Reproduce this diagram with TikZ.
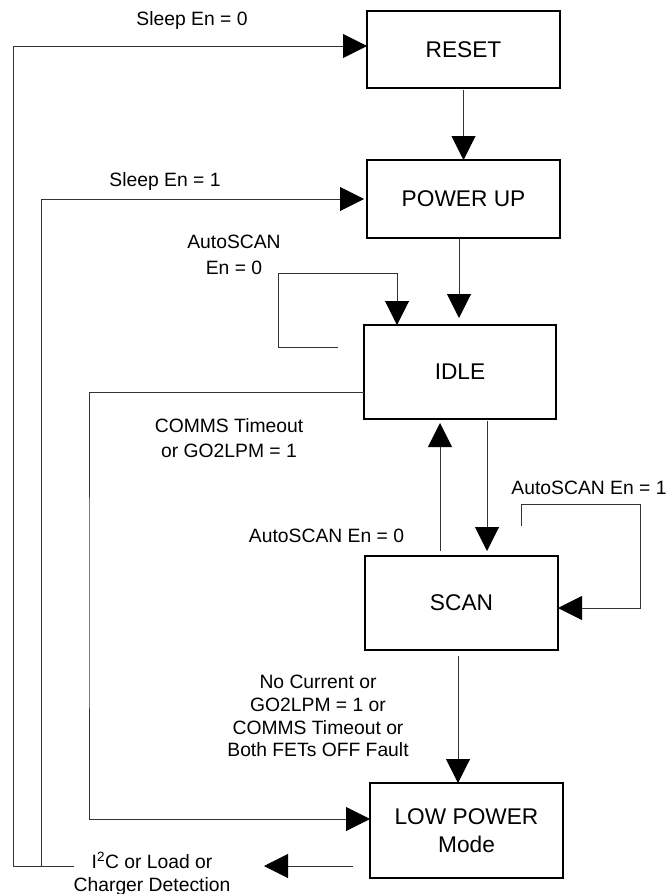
\documentclass[tikz,border=0pt]{standalone}
\usepackage{fontspec}
\setmainfont{Liberation Sans}
\usetikzlibrary{arrows.meta}
\newcommand{\statefont}{\fontsize{22.7}{28}\selectfont}
\newcommand{\labfont}{\fontsize{19.3}{22.7}\selectfont}
\begin{document}
\begin{tikzpicture}[x=1pt,y=-1pt,
  state/.style={draw=black, line width=1.3pt, inner sep=0pt, outer sep=0pt, font=\statefont, align=center},
  lab/.style={font=\labfont, align=center, inner sep=0pt},
  wire/.style={draw=black!80, line width=1pt},
  conn/.style={wire, -{Triangle[length=24pt,width=24pt,color=black]}}
]
\useasboundingbox (0,0) rectangle (666,894);
\fill[white] (0,0) rectangle (666,894);

% states
\node[state, minimum width=193pt, minimum height=77pt] (reset) at (463.5,49.5) {RESET};
\node[state, minimum width=193pt, minimum height=78pt] (powerup) at (463.5,199) {POWER UP};
\node[state, minimum width=192pt, minimum height=94pt] (idle) at (460,372) {IDLE};
\node[state, minimum width=193pt, minimum height=94pt] (scan) at (461.5,603) {SCAN};
\node[state, minimum width=193pt, minimum height=95pt] (lpm) at (466.5,830.5) {LOW POWER\\Mode};

% labels
\node[lab] (l0) at (192,21) {Sleep En = 0};
\node[lab] (l1) at (165,182) {Sleep En = 1};
\node[lab, font=\fontsize{19.3}{26}\selectfont] (l2) at (234,255) {AutoSCAN\\En = 0};
\node[lab, font=\fontsize{19.3}{25}\selectfont] (l3) at (229,438.5) {COMMS Timeout\\or GO2LPM = 1};
\node[lab] (l4) at (326.5,536) {AutoSCAN En = 0};
\node[lab] (l5) at (589,488) {AutoSCAN En = 1};
\node[lab] (l6) at (318,716) {No Current or\\GO2LPM = 1 or\\COMMS Timeout or\\Both FETs OFF Fault};
\node[lab] (det) at (152,873.5) {I\textsuperscript{2}C or Load or\\Charger Detection};

% free ends
\coordinate (detL) at (74,866);
\coordinate (detR) at (264,866);
\coordinate (jn) at (41,866);
\coordinate (iloopS) at (338,347);
\coordinate (sloopS) at (521,526);

% connectors
\draw[conn] (detL) -- (13,866) |- ([yshift=3.5pt]reset.west);
\draw[conn, shorten >=3pt] (jn) |- (powerup.west);
\draw[conn, shorten <=2pt] (reset.south) -- (powerup.north);
\draw[conn] ([xshift=-4.5pt,yshift=-1pt]powerup.south) -- ([xshift=-1pt,yshift=7pt]idle.north);
\draw[conn] (iloopS) -| (278,273) -| ([xshift=-63pt]idle.north);
\draw[conn] ([yshift=-20pt]idle.west) -| (89,600) |- ([yshift=11.5pt]lpm.west);
\draw[conn] ([xshift=27pt,yshift=-2pt]idle.south) -- ([xshift=25.5pt,yshift=5pt]scan.north);
\draw[conn] ([xshift=-21.5pt,yshift=5pt]scan.north) -- ([xshift=-20pt,yshift=-4pt]idle.south);
\draw[conn] (sloopS) |- (640,504) |- ([yshift=-5pt]scan.east);
\draw[conn] ([xshift=-3.5pt,yshift=-6pt]scan.south) -- ([xshift=-8.5pt]lpm.north);
\draw[conn] ([xshift=-17pt,yshift=-35.5pt]lpm.west) -- (detR);
\end{tikzpicture}
\end{document}
